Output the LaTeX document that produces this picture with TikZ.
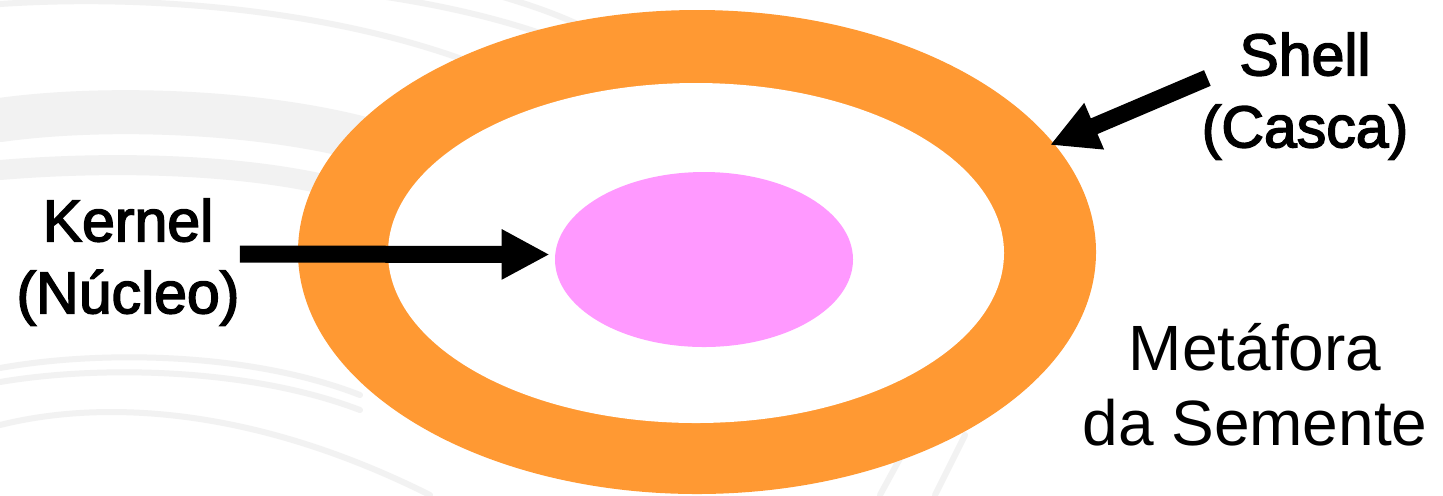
\documentclass[tikz,border=0pt]{standalone}
\usepackage{fontspec}
\setmainfont{Liberation Sans}
\newfontfamily\heavyfont[RawFeature={embolden=2.6}]{Liberation Sans}
\usepackage{xcolor}
\usepackage{tikz}
\usetikzlibrary{arrows.meta,shapes.geometric}
\definecolor{peel}{HTML}{FF9933}
\definecolor{core}{HTML}{FF99FF}
\definecolor{swirl}{HTML}{F2F2F2}

\begin{document}
\begin{tikzpicture}[x=0.5pt, y=-0.5pt,
  swirl/.style={draw=swirl, line width=3pt, line cap=round},
  egg/.style={ellipse, inner sep=0pt, draw=none},
  label/.style={align=center, inner sep=0pt, font=\heavyfont\fontsize{29.5}{36}\selectfont},
  note/.style={align=center, inner sep=0pt, font=\fontsize{32}{37.5}\selectfont},
  pointer/.style={line width=8.5pt, -{Triangle[length=24pt,width=23.5pt]}}
]
  \useasboundingbox[fill=white] (0,0) rectangle (1443,495);
  % faint background swirls
  \draw[swirl] (0,4) .. controls (150,-6) and (330,10) .. (470,62);
  \draw[swirl] (380,-4) .. controls (440,5) and (500,18) .. (560,40);
  \draw[swirl] (500,-4) .. controls (530,5) and (560,15) .. (590,30);
  \draw[swirl, line width=22pt] (0,120) .. controls (100,106) and (250,110) .. (360,138);
  \draw[swirl, line width=10pt] (0,170) .. controls (120,160) and (250,165) .. (340,188);
  \draw[swirl] (0,368) .. controls (100,350) and (250,352) .. (360,395);
  \draw[swirl] (0,382) .. controls (100,365) and (250,368) .. (360,410);
  \draw[swirl] (0,425) .. controls (100,400) and (250,405) .. (430,495);
  \draw[swirl] (880,495) -- (910,440);
  \draw[swirl] (935,495) -- (965,435);

  % the seed
  \node[egg, fill=peel, minimum width=399pt, minimum height=242pt] (shell) at (697,252) {};
  \node[egg, fill=white, minimum width=308pt, minimum height=170pt] (flesh) at (696,253) {};
  \node[egg, fill=core, minimum width=149pt, minimum height=87.5pt] (kernel) at (704,259.5) {};

  \node[label] (klabel) at (128,262) {Kernel\\(Núcleo)};
  \node[label] (slabel) at (1305,96) {Shell\\(Casca)};
  \node[note] (title) at (1255,385) {Metáfora\\da Semente};

  \coordinate (stip) at (1050,145);
  \draw[pointer] ([yshift=4pt]klabel.east) -- ([xshift=-2.5pt,yshift=2.5pt]kernel.west);
  \draw[pointer] ([xshift=3pt,yshift=9pt]slabel.west) -- (stip);
\end{tikzpicture}
\end{document}
